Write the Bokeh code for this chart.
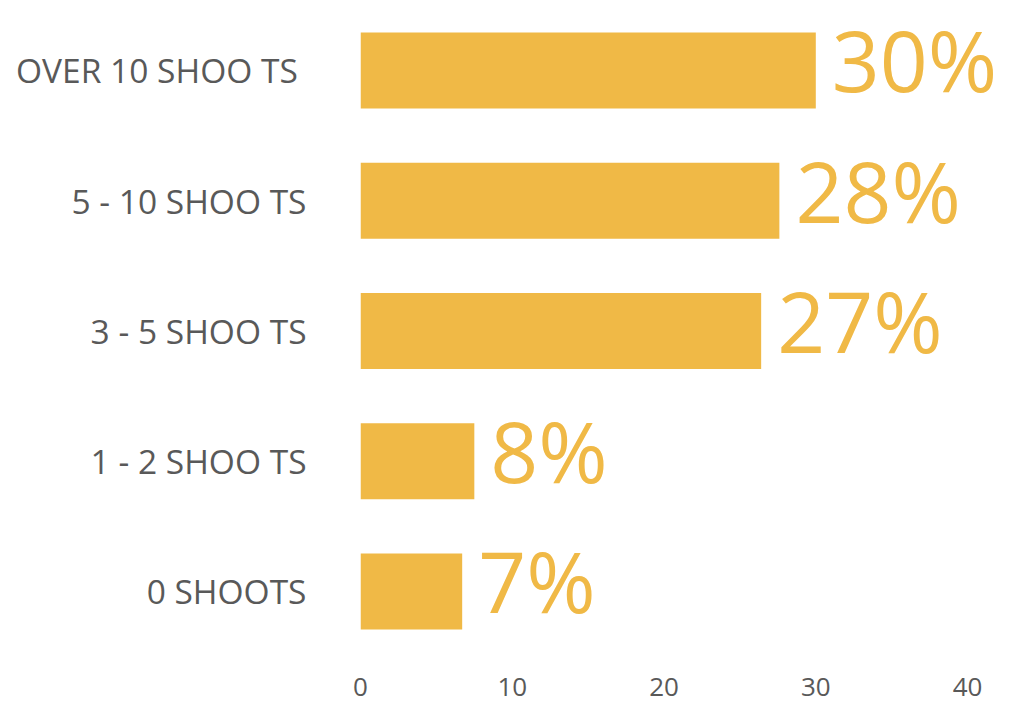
from bokeh.plotting import figure
from bokeh.models import ColumnDataSource, Range1d, FixedTicker, LabelSet
from bokeh.core.properties import value
from bokeh.embed import file_html
from bokeh.resources import INLINE

categories = ["OVER 10  SHOO TS", "5 - 10 SHOO TS", "3 - 5 SHOO TS", "1 - 2 SHOO TS", "0 SHOOTS"]
values = [30, 27.6, 26.4, 7.5, 6.7]
value_labels = ["30%", "28%", "27%", "8%", "7%"]
x_ticks = [0, 10, 20, 30, 40]

BAR = "#F0B946"
GREY = "#595959"

n = len(categories)
ypos = [n - 1 - i for i in range(n)]
src = ColumnDataSource(dict(cat=categories, val=values, lab=value_labels, y=ypos))

p = figure(frame_width=640, frame_height=667,
           x_range=Range1d(0, 42.17), y_range=Range1d(-0.5835, 4.537),
           output_backend="svg", toolbar_location=None,
           min_border_left=360, min_border_right=8, min_border_top=0, min_border_bottom=47)

p.hbar(y="y", left=0, right="val", height=0.583, source=src, color=BAR, line_color=None)

p.add_layout(LabelSet(x="val", y="y", text="lab", source=src, x_offset=16, y_offset=-22,
                      text_font=value("Open Sans"), text_font_size="84px", text_color=BAR,
                      text_align="left", text_baseline="alphabetic"))

p.xaxis.ticker = FixedTicker(ticks=x_ticks)
p.yaxis.ticker = FixedTicker(ticks=ypos)
p.yaxis.major_label_overrides = {y: c for y, c in zip(ypos, categories)}
for ax in (p.xaxis, p.yaxis):
    ax.axis_line_color = None
    ax.major_tick_line_color = None
    ax.minor_tick_line_color = None
    ax.major_tick_in = 0
    ax.major_tick_out = 0
    ax.major_label_text_font = "Open Sans"
    ax.major_label_text_color = GREY
p.xaxis.major_label_text_font_size = "26px"
p.xaxis.major_label_standoff = 10
p.yaxis.major_label_text_font_size = "33.5px"
p.yaxis.major_label_standoff = 54
p.grid.visible = False
p.outline_line_color = None
p.background_fill_color = "white"
p.border_fill_color = "white"

open("out.html", "w").write(file_html(p, INLINE))
